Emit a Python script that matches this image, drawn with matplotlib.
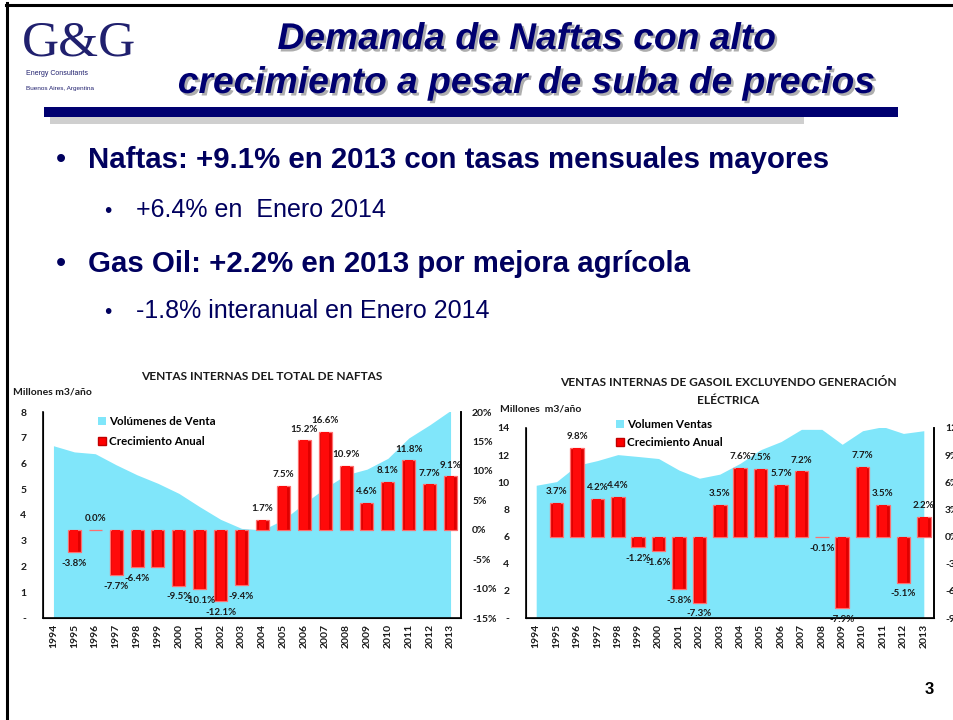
import matplotlib
matplotlib.use('Agg')
import matplotlib.pyplot as plt
import matplotlib.patheffects as pe
from matplotlib.patches import Rectangle, Patch
from matplotlib.lines import Line2D
import numpy as np

W, H = 954, 720

# ---------------- data ----------------
years = [str(y) for y in range(1994, 2014)]

naftas_vol = [6.69, 6.45, 6.38, 5.95, 5.56, 5.23, 4.84, 4.32, 3.83, 3.48,
              3.42, 3.82, 4.45, 5.05, 5.56, 5.78, 6.20, 6.99, 7.50, 8.06]
naftas_growth = [np.nan, -3.8, 0.0, -7.7, -6.4, -6.4, -9.5, -10.1, -12.1, -9.4,
                 1.7, 7.5, 15.2, 16.6, 10.9, 4.6, 8.1, 11.8, 7.7, 9.1]
naftas_labels = ['', '-3.8%', '0.0%', '-7.7%', '-6.4%', '', '-9.5%', '-10.1%', '-12.1%', '-9.4%',
                 '1.7%', '7.5%', '15.2%', '16.6%', '10.9%', '4.6%', '8.1%', '11.8%', '7.7%', '9.1%']

gasoil_vol = [9.78, 10.05, 11.25, 11.60, 12.04, 11.90, 11.75, 10.90, 10.30, 10.60,
              11.40, 12.40, 13.00, 13.90, 13.90, 12.80, 13.80, 14.10, 13.60, 13.80]
gasoil_growth = [np.nan, 3.7, 9.8, 4.2, 4.4, -1.2, -1.6, -5.8, -7.3, 3.5,
                 7.6, 7.5, 5.7, 7.2, -0.1, -7.9, 7.7, 3.5, -5.1, 2.2]
gasoil_labels = ['', '3.7%', '9.8%', '4.2%', '4.4%', '-1.2%', '-1.6%', '-5.8%', '-7.3%', '3.5%',
                 '7.6%', '7.5%', '5.7%', '7.2%', '-0.1%', '-7.9%', '7.7%', '3.5%', '-5.1%', '2.2%']

naftas_vol_ticks = [0, 1, 2, 3, 4, 5, 6, 7, 8]
naftas_vol_ticklabels = ['-', '1', '2', '3', '4', '5', '6', '7', '8']
naftas_pct_ticks = [-15, -10, -5, 0, 5, 10, 15, 20]
gasoil_vol_ticks = [0, 2, 4, 6, 8, 10, 12, 14]
gasoil_vol_ticklabels = ['-', '2', '4', '6', '8', '10', '12', '14']
gasoil_pct_ticks = [-9, -6, -3, 0, 3, 6, 9, 12]

title_lines = ["Demanda de Naftas con alto", "crecimiento a pesar de suba de precios"]
main_bullets = ["Naftas: +9.1% en 2013 con tasas mensuales mayores",
                "Gas Oil: +2.2% en 2013 por mejora agrícola"]
sub_bullets = ["+6.4% en  Enero 2014", "-1.8% interanual en Enero 2014"]

# ---------------- styles ----------------
NAVY = '#000070'
TXT_NAVY = '#00005E'
CYAN = '#80E6FA'
CHART_FONT = 'Lato'
SLIDE_FONT = 'Liberation Sans'


def fx(x):
    return x / W


def fy(y):
    return 1 - y / H


fig = plt.figure(figsize=(W / 100, H / 100), dpi=100)
fig.patch.set_facecolor('white')

# slide frame
fig.add_artist(Line2D([fx(7), fx(7)], [fy(3), fy(720)], color='black', lw=2.2,
                      transform=fig.transFigure))
fig.add_artist(Line2D([fx(6), fx(954)], [fy(4.5), fy(4.5)], color='black', lw=2.2,
                      transform=fig.transFigure))

# logo
fig.text(fx(22), fy(55), "G&G", family='Liberation Serif', fontsize=37, color='#20206E',
         ha='left', va='baseline')
fig.text(fx(26), fy(75), "Energy Consultants", family=SLIDE_FONT, fontsize=5,
         color='#20206E', ha='left', va='baseline')
fig.text(fx(26), fy(90), "Buenos Aires, Argentina", family=SLIDE_FONT, fontsize=4.6,
         color='#20206E', ha='left', va='baseline')

# title
shadow = [pe.SimplePatchShadow(offset=(1.8, -1.8), shadow_rgbFace='#9A9A9A', alpha=0.8), pe.Normal()]
for line, yb in zip(title_lines, [49, 93]):
    fig.text(fx(527), fy(yb), line, family=SLIDE_FONT, fontsize=26.8, fontweight='bold',
             style='italic', color=NAVY, ha='center', va='baseline', path_effects=shadow)

# title rule
fig.add_artist(Rectangle((fx(50), fy(124)), fx(754), 7 / H, transform=fig.transFigure,
                         color='#CFCFCF', lw=0))
fig.add_artist(Rectangle((fx(44), fy(117)), fx(854), 10 / H, transform=fig.transFigure,
                         color=NAVY, lw=0))

# bullets
for txt, yb in zip(main_bullets, [168, 272]):
    fig.text(fx(56), fy(yb), "•", family=SLIDE_FONT, fontsize=21, color=TXT_NAVY,
             ha='left', va='baseline')
    fig.text(fx(88), fy(yb), txt, family=SLIDE_FONT, fontsize=21.2, fontweight='bold',
             color=TXT_NAVY, ha='left', va='baseline')
for txt, yb in zip(sub_bullets, [217, 318]):
    fig.text(fx(104), fy(yb), "•", family=SLIDE_FONT, fontsize=15, color=TXT_NAVY,
             ha='left', va='baseline')
    fig.text(fx(136), fy(yb), txt, family=SLIDE_FONT, fontsize=18,
             color=TXT_NAVY, ha='left', va='baseline')

# page number
fig.text(fx(929), fy(690), "3", family=SLIDE_FONT, fontsize=12, fontweight='bold',
         color='black', ha='center', va='center')


def draw_chart(rect, vol, growth, labels, vol_max, vol_ticks, vol_ticklabels,
               pct_lim, pct_ticks, bar_w, legend_names, legend_xy, legend_sp):
    ax = fig.add_axes(rect)
    x = np.arange(len(years))
    ax.fill_between(x, 0, vol, color=CYAN, lw=0, zorder=1)
    ax.set_xlim(-0.5, len(years) - 0.5)
    ax.set_ylim(0, vol_max)
    ax.set_yticks(vol_ticks)
    ax.set_yticklabels(vol_ticklabels)
    ax.set_xticks(x)
    ax.set_xticklabels(years, rotation=90)
    ax.tick_params(axis='y', length=0, pad=12, labelsize=7.5)
    ax.tick_params(axis='x', length=0, pad=4, labelsize=7.5)
    for lab in ax.get_xticklabels() + ax.get_yticklabels():
        lab.set_fontfamily(CHART_FONT)
        lab.set_fontweight('bold')
        lab.set_color('#1A1A1A')
    ax.spines['top'].set_visible(False)
    for s in ['left', 'bottom', 'right']:
        ax.spines[s].set_linewidth(1.2)
    ax.patch.set_alpha(0)

    ax2 = ax.twinx()
    ax2.set_ylim(*pct_lim)
    ax2.set_yticks(pct_ticks)
    ax2.set_yticklabels([f"{t}%" for t in pct_ticks])
    ax2.tick_params(axis='y', length=0, pad=8, labelsize=7.5)
    for lab in ax2.get_yticklabels():
        lab.set_fontfamily(CHART_FONT)
        lab.set_fontweight('bold')
        lab.set_color('#1A1A1A')
    ax2.spines['top'].set_visible(False)
    ax2.spines['right'].set_linewidth(1.2)
    g = np.array(growth, dtype=float)
    ax2.bar(x, g, width=bar_w, color='#E00000', edgecolor='#FF6E6E', lw=0.9, zorder=2)
    ax2.bar(x, g, width=bar_w * 0.6, color='#FF0A0A', lw=0, zorder=3)
    for xi, v, lab in zip(x, g, labels):
        if lab:
            ax2.annotate(lab, (xi, v), xytext=(0, 8 if v >= 0 else -8),
                         textcoords='offset points', ha='center', va='center',
                         fontsize=7, fontweight='bold', family=CHART_FONT,
                         color='#1A1A1A', zorder=5)
    handles = [Patch(facecolor=CYAN, edgecolor='none'),
               Patch(facecolor='#FF0000', edgecolor='#C00000')]
    ax2.legend(handles, legend_names, loc='upper left',
               bbox_to_anchor=legend_xy, bbox_transform=fig.transFigure,
               frameon=False, handlelength=0.7, handleheight=0.7, handletextpad=0.25,
               labelspacing=legend_sp, borderpad=0, borderaxespad=0,
               prop={'family': CHART_FONT, 'weight': 'bold', 'size': 8.3})
    return ax, ax2


# left chart
draw_chart([fx(43), fy(618), 418 / W, 206 / H], naftas_vol, naftas_growth, naftas_labels,
           8, naftas_vol_ticks, naftas_vol_ticklabels, (-15, 20), naftas_pct_ticks, 0.62,
           ["Volúmenes de Venta", "Crecimiento Anual"], (fx(98), fy(416)), 0.82)
fig.text(fx(262), fy(377), "VENTAS INTERNAS DEL TOTAL DE NAFTAS", family=CHART_FONT,
         fontsize=8.6, fontweight='bold', color='#1A1A1A', ha='center', va='center')
fig.text(fx(13), fy(392), "Millones m3/año", family=CHART_FONT, fontsize=7.5,
         fontweight='bold', color='#1A1A1A', ha='left', va='center')

# right chart
draw_chart([fx(526), fy(618), 408 / W, 190 / H], gasoil_vol, gasoil_growth, gasoil_labels,
           14, gasoil_vol_ticks, gasoil_vol_ticklabels, (-9, 12), gasoil_pct_ticks, 0.66,
           ["Volumen Ventas", "Crecimiento Anual"], (fx(616), fy(419)), 0.6)
fig.text(fx(728), fy(383), "VENTAS INTERNAS DE GASOIL EXCLUYENDO GENERACIÓN", family=CHART_FONT,
         fontsize=8.6, fontweight='bold', color='#1A1A1A', ha='center', va='center')
fig.text(fx(728), fy(400), "ELÉCTRICA", family=CHART_FONT,
         fontsize=8.6, fontweight='bold', color='#1A1A1A', ha='center', va='center')
fig.text(fx(500), fy(409), "Millones  m3/año", family=CHART_FONT, fontsize=7.5,
         fontweight='bold', color='#1A1A1A', ha='left', va='center')

fig.savefig('out.png', dpi=100)
